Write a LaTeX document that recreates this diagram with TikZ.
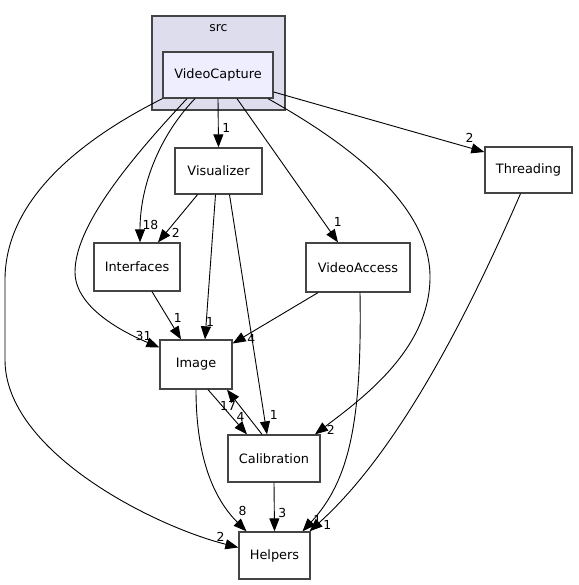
\documentclass[tikz,border=0pt]{standalone}
\usepackage{fontspec}
\setmainfont{DejaVu Sans}
\usetikzlibrary{arrows.meta}
\definecolor{srcfill}{HTML}{DDDDEE}
\definecolor{capfill}{HTML}{EEEEFF}
\definecolor{boxline}{HTML}{444444}
\tikzset{dep/.style={draw, line width=.9pt, -{Triangle[length=13pt,width=10pt]}}}

\begin{document}
\begin{tikzpicture}[x=1pt,y=-1pt]
      \useasboundingbox (0,0) rectangle (578,585);

      \node[draw=boxline, line width=1.3pt, fill=srcfill, minimum width=133pt, minimum height=94pt] (src) at (218.5,63) {};
      \node[font=\fontsize{12.4}{14}\selectfont] (srclabel) at (218.5,28.5) {src};

      \begin{scope}[every node/.style={rectangle, draw=boxline, line width=1.3pt, fill=white, inner sep=0pt, minimum height=47pt, font=\fontsize{12.9}{15}\selectfont}]
        \node[fill=capfill, minimum width=110pt, minimum height=46pt] (capture) at (218,75) {VideoCapture};
        \node[minimum width=87pt, minimum height=46pt] (visualizer) at (218.5,171) {Visualizer};
        \node[minimum width=87pt, minimum height=46pt] (threading) at (528.5,170) {Threading};
        \node[minimum width=86pt, minimum height=48pt] (interfaces) at (137,267) {Interfaces};
        \node[minimum width=104pt, minimum height=49pt] (videoaccess) at (358,267.5) {VideoAccess};
        \node[minimum width=72pt, minimum height=49pt] (image) at (196,364.5) {Image};
        \node[minimum width=92pt] (calibration) at (274,458.5) {Calibration};
        \node[minimum width=71pt] (helpers) at (274.5,555.5) {Helpers};
      \end{scope}

      \begin{scope}[every node/.style={font=\fontsize{12.4}{14}\selectfont, inner sep=1.5pt}]

        \begin{scope}[every edge/.style={dep}]
          \path (capture.south) edge node[pos=.6, right=2pt] {1} (visualizer.north);
          \path ([yshift=-17pt]capture.east) edge node[pos=.93, above=3pt] {2} ([yshift=18pt]threading.west);
          \path ([xshift=19pt]capture.south) edge node[pos=.86, right=8pt] {1} ([xshift=-20pt]videoaccess.north);
          \path ([xshift=-21pt]visualizer.south) edge node[pos=.8, right=4pt] {2} ([xshift=21pt]interfaces.north);
          \path ([xshift=-3pt]visualizer.south) edge node[pos=.88, right, xshift=-2pt] {1} ([xshift=9pt]image.north);
          \path ([xshift=11pt]visualizer.south) edge node[pos=.92, right=4pt] {1} ([xshift=-7pt]calibration.north);
          \path ([xshift=15pt]interfaces.south) edge node[pos=.55, right=4pt] {1} ([xshift=-15pt]image.north);
          \path ([xshift=-40pt]videoaccess.south) edge node[pos=.78, below] {4} ([yshift=21pt]image.east);
          \path ([xshift=12pt]image.south) edge node[pos=.61, right=3pt] {4} ([xshift=-27pt]calibration.north);
          \path ([xshift=-12pt]calibration.north) edge node[pos=.63, left=2pt] {17} ([xshift=31pt]image.south);
          \path (calibration.south) edge node[pos=.62, right=2pt] {3} (helpers.north);
        \end{scope}

        % curved dependencies
        \draw[dep] ([xshift=-23pt]capture.south) .. controls (160,135) and (140,185) .. ([xshift=3pt]interfaces.north)
          node[pos=.9, right] {18};
        \draw[dep] ([xshift=-31pt]capture.south) .. controls (120,170) and (75,230) .. (75,272)
          .. controls (75,310) and (130,335) .. ([yshift=17pt]image.west)
          node[pos=1, above left, xshift=-6pt, yshift=5pt] {31};
        \draw[dep] (capture.south west) .. controls (80,140) and (5,200) .. (5,280) -- (5,360)
          .. controls (5,450) and (150,525) .. ([yshift=8pt]helpers.west)
          node[pos=1, above left, xshift=-12pt, yshift=4pt] {2};
        \draw[dep] ([xshift=50pt]capture.south) .. controls (360,150) and (430,210) .. (430,277)
          .. controls (430,350) and (360,400) .. ([xshift=41pt]calibration.north)
          node[pos=1, above right, xshift=10pt, yshift=-2pt] {2};
        \draw[dep] ([xshift=2pt]videoaccess.south) .. controls (362,420) and (350,480) .. ([xshift=28pt]helpers.north)
          node[pos=1, above right, xshift=9pt, yshift=5pt] {1};
        \draw[dep] (image.south) .. controls (196,460) and (215,500) .. ([xshift=-28pt]helpers.north)
          node[pos=1, above left, xshift=2pt, yshift=14pt] {8};
        \draw[dep] ([xshift=-8pt]threading.south) .. controls (470,310) and (400,450) .. ([xshift=35pt]helpers.north)
          node[pos=1, above right, xshift=12pt] {1};
      \end{scope}

    \end{tikzpicture}
\end{document}
